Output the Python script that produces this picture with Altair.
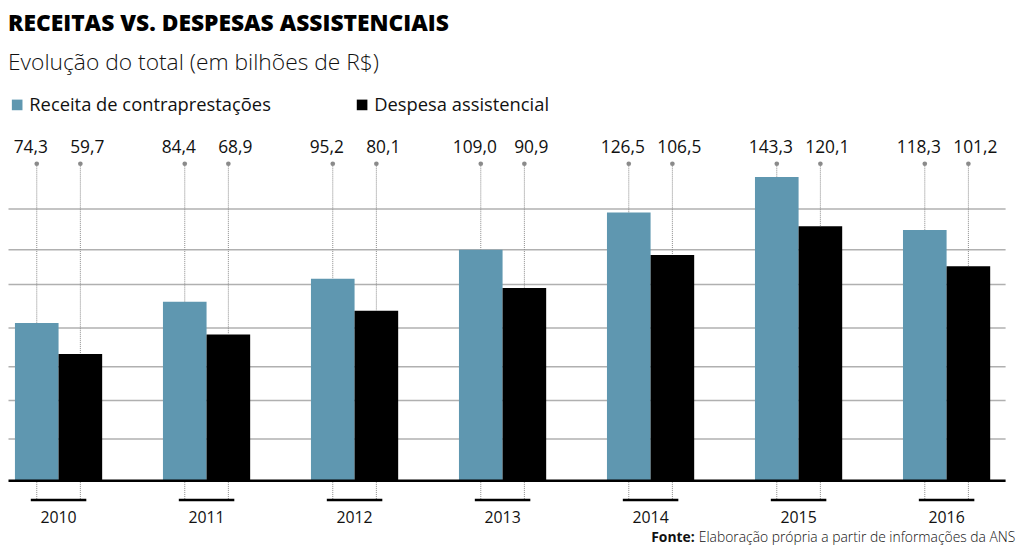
import altair as alt
import pandas as pd

# ---- data ----
years = ["2010", "2011", "2012", "2013", "2014", "2015", "2016"]
receita = [74.3, 84.4, 95.2, 109.0, 126.5, 143.3, 118.3]
despesa = [59.7, 68.9, 80.1, 90.9, 106.5, 120.1, 101.2]
series = ["Receita de contraprestações", "Despesa assistencial"]
colors = ["#5f97b0", "#000000"]
grid_values = [19.7, 38.0, 54.0, 72.2, 92.8, 109.2, 128.4]
title_text = "RECEITAS VS. DESPESAS ASSISTENCIAIS"
subtitle_text = "Evolução do total (em bilhões de R$)"
source_bold = ["Fonte:"]
source_text = ["Elaboração própria a partir de informações da ANS"]


def fmt(v):
    return f"{v:.1f}".replace(".", ",")


rows = []
for i, yr in enumerate(years):
    rows.append({"ano": yr, "serie": series[0], "valor": receita[i], "rotulo": fmt(receita[i])})
    rows.append({"ano": yr, "serie": series[1], "valor": despesa[i], "rotulo": fmt(despesa[i])})
df = pd.DataFrame(rows)

W, H = 1006, 350
YMAX = 164
LABEL_Y = 157.2
DOT_Y = 149.6
UNDER_Y = -9.4
FONT = "Open Sans"
GRAY = "#8a8a8a"

x_enc = alt.X(
    "ano:N", sort=years, title=None,
    scale=alt.Scale(paddingInner=0.4107, paddingOuter=0.0738, align=0.318),
    axis=alt.Axis(labelAngle=0, ticks=False, domain=True, domainColor="#000000",
                  domainWidth=2.5, labelFont=FONT, labelFontSize=16, labelColor="#111111",
                  labelPadding=30, zindex=1, grid=False),
)
xo = alt.XOffset("serie:N", sort=series, scale=alt.Scale(paddingInner=0, paddingOuter=0))
y_scale = alt.Scale(domain=[0, YMAX], nice=False, zero=True)
y_enc = alt.Y(
    "valor:Q", scale=y_scale, title=None,
    axis=alt.Axis(values=grid_values, grid=True, gridColor="#b0b0b0", gridWidth=1.5,
                  labels=False, ticks=False, domain=False),
)

base = alt.Chart(df).transform_calculate(
    dot_y=str(DOT_Y), label_y=str(LABEL_Y), zero_y="0", under_y=str(UNDER_Y)
)

bars = base.mark_bar().encode(
    x=x_enc, xOffset=xo, y=y_enc,
    color=alt.Color(
        "serie:N", sort=series, scale=alt.Scale(domain=series, range=colors),
        legend=alt.Legend(title=None, orient="none", legendX=0, legendY=-38,
                          direction="horizontal", symbolType="square", symbolSize=115,
                          symbolStrokeWidth=0, labelFont=FONT, labelFontSize=18.5,
                          labelColor="#111111", columnPadding=82, labelOffset=3,
                          labelLimit=0, padding=0, symbolOpacity=1),
    ),
)

connectors = base.mark_rule(color=GRAY, strokeDash=[1, 1], strokeWidth=1).encode(
    x=x_enc, xOffset=xo, y=alt.Y("dot_y:Q"), y2=alt.Y2("valor:Q")
)
dots = base.mark_circle(color=GRAY, size=22, opacity=1).encode(
    x=x_enc, xOffset=xo, y=alt.Y("dot_y:Q")
)
labels_r = base.transform_filter(alt.datum.serie == series[0]).mark_text(
    font=FONT, fontSize=17.5, color="#111111", baseline="middle", dx=-6
).encode(x=x_enc, xOffset=xo, y=alt.Y("label_y:Q"), text="rotulo:N")
labels_d = base.transform_filter(alt.datum.serie == series[1]).mark_text(
    font=FONT, fontSize=17.5, color="#111111", baseline="middle", dx=7
).encode(x=x_enc, xOffset=xo, y=alt.Y("label_y:Q"), text="rotulo:N")
under_conn = base.mark_rule(color=GRAY, strokeDash=[1, 1], strokeWidth=1).encode(
    x=x_enc, xOffset=xo, y=alt.Y("zero_y:Q"), y2=alt.Y2("under_y:Q")
)
under_tick = base.transform_filter(alt.datum.serie == series[0]).mark_tick(
    orient="horizontal", color="#000000", thickness=2.5, size=56, opacity=1
).encode(x=x_enc, y=alt.Y("under_y:Q"))

src_b = alt.Chart(pd.DataFrame({"t": source_bold})).mark_text(
    align="left", baseline="middle", font=FONT, fontWeight="bold", fontSize=14, color="#111111"
).encode(x=alt.value(649), y=alt.value(H + 58), text="t:N")
src_r = alt.Chart(pd.DataFrame({"t": source_text})).mark_text(
    align="left", baseline="middle", font=FONT, fontWeight=300, fontSize=14, color="#111111"
).encode(x=alt.value(697), y=alt.value(H + 58), text="t:N")

chart = alt.layer(bars, connectors, under_conn, under_tick, dots, labels_r, labels_d,
                  src_b, src_r).properties(
    width=W, height=H,
    title=alt.TitleParams(
        text=title_text, subtitle=subtitle_text, anchor="start", frame="group",
        font=FONT, fontSize=23, fontWeight=800, color="#000000",
        subtitleFont=FONT, subtitleFontSize=23, subtitleFontWeight=300,
        subtitleColor="#111111", subtitlePadding=16, offset=21,
    ),
).configure_view(stroke=None).properties(
    padding={"left": 0, "top": 3, "right": 0, "bottom": 0}
)

chart.save("out.html", embed_options={"renderer": "svg", "actions": False})
